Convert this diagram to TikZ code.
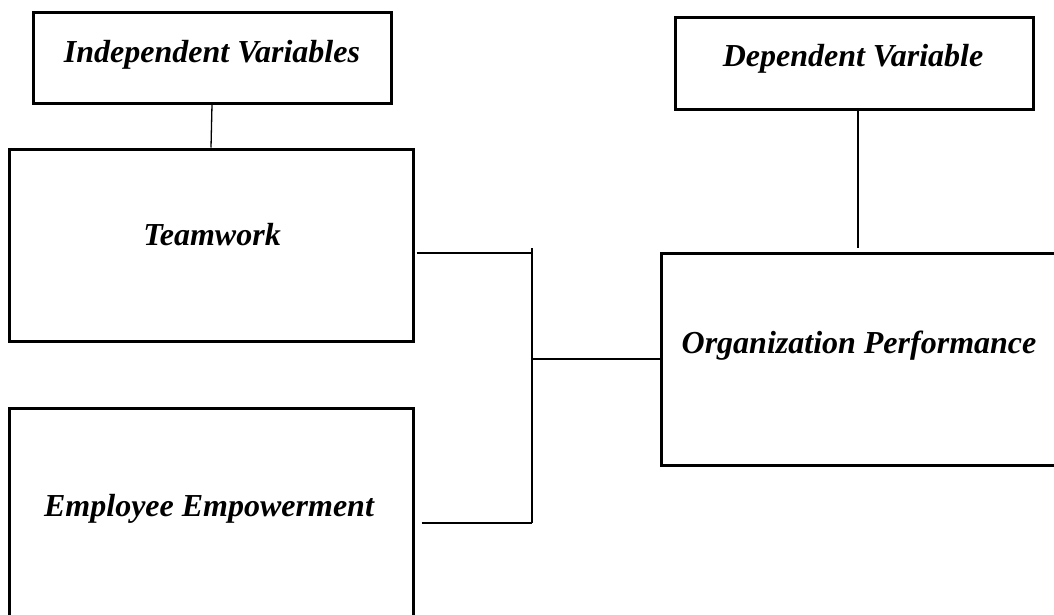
\documentclass[tikz,border=0pt]{standalone}
\usepackage{fontspec}
\setmainfont{Liberation Serif}
\usepackage{tikz}
\usetikzlibrary{positioning}

\begin{document}
\begin{tikzpicture}[x=1pt, y=-1pt,
  varbox/.style={draw, line width=3pt, inner sep=0pt},
  lbl/.style={font=\fontsize{32}{38}\selectfont\bfseries\itshape, inner sep=0pt, anchor=base},
  link/.style={line width=1.3pt},
  bar/.style={line width=2.8pt}]
%%%%% Frame %%%%%
\clip (0,0) rectangle (1054,614);
%%%%% Boxes %%%%%
\node[varbox, minimum width=358pt, minimum height=91pt] (indep) at (212,57.5) {};
\node[varbox, minimum width=404pt, minimum height=192pt] (team) at (211,245) {};
\node[varbox, minimum width=404pt, minimum height=232pt] (empow) at (211,524) {};
\node[varbox, minimum width=358pt, minimum height=92pt] (dep) at (854,63) {};
\node[varbox, minimum width=399pt, minimum height=212pt] (perf) at (860.5,359) {};
%%%%% Labels %%%%%
\node[lbl] (indeplbl) at (212,62) {Independent Variables};
\node[lbl] (teamlbl) at (212,245) {Teamwork};
\node[lbl] (empowlbl) at (209,516) {Employee Empowerment};
\node[lbl] (deplbl) at (853,66) {Dependent Variable};
\node[lbl] (perflbl) at (859,353) {Organization Performance};
%%%%% Connectors %%%%%
\coordinate (bartop) at (532,248);
\coordinate (barbot) at (532,523);
\draw[link] (indep.south) -- (team.north);
\draw[link] ([xshift=4pt]dep.south) -- ([xshift=4pt,yshift=4pt]dep.south |- perf.north);
\draw[link] ([xshift=2pt,yshift=-8pt]team.east) -- ([yshift=-8pt]team.east -| bartop);
\draw[bar] (bartop) -- (barbot);
\draw[bar] ([xshift=7pt]empow.east |- barbot) -- (barbot);
\draw[link] (bartop |- perf.west) -- (perf.west);
\end{tikzpicture}
\end{document}
